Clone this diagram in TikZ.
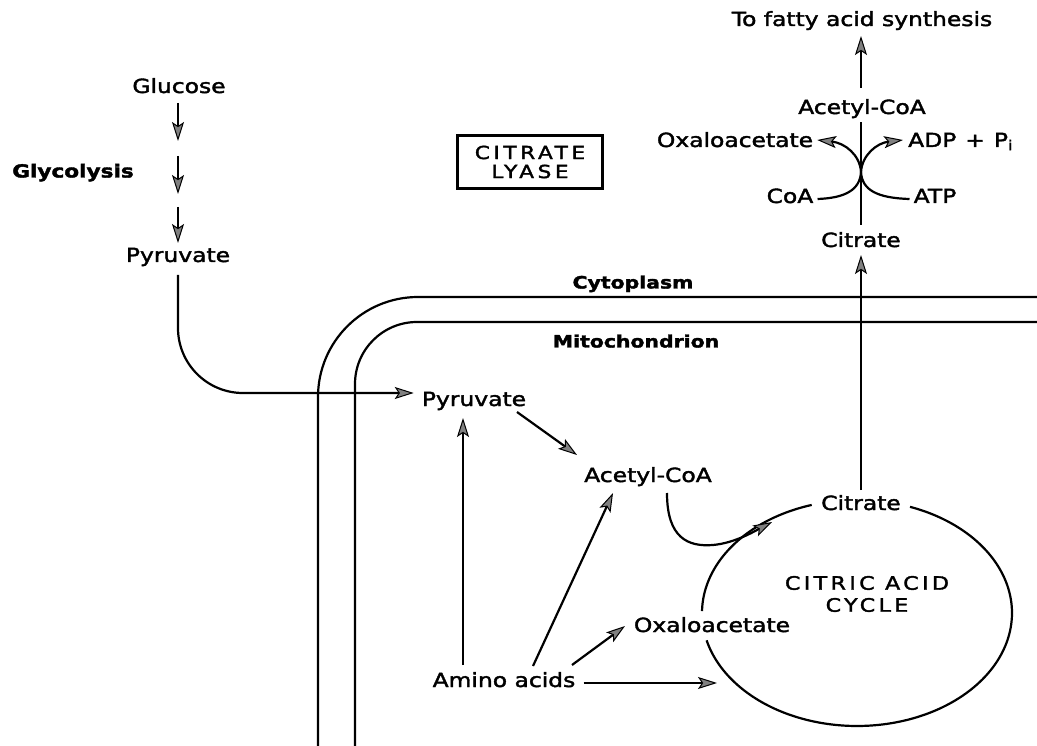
\documentclass[tikz,border=0pt]{standalone}
\usepackage{fontspec}
\setmainfont{DejaVu Sans}[FakeStretch=1.2,FakeBold=2]
\usetikzlibrary{arrows.meta,calc}
\begin{document}
\begin{tikzpicture}[x=1pt,y=-1pt,
  lbl/.style={inner sep=0pt,text height=14pt,text depth=0pt,font=\fontsize{19.5}{22}\selectfont},
  blbl/.style={inner sep=0pt,text height=13pt,text depth=0pt,font=\fontsize{17}{20}\selectfont\bfseries},
  caps/.style={inner sep=0pt,align=center,font=\fontsize{18}{20}\selectfont\addfontfeatures{LetterSpace=20}},
  line/.style={line width=2.2pt},
  arr/.style={line,-{Stealth[length=19pt,width=12pt,inset=4pt,line width=1pt,fill=black!50]}},
  mem/.style={line width=2.2pt}]
\useasboundingbox (0,0) rectangle (1037,746);
\fill[white] (0,0) rectangle (1037,746);

% cytoplasm labels
\node[lbl] (fatty) at (862,19) {To fatty acid synthesis};
\node[lbl] (acoaT) at (862,107) {Acetyl-CoA};
\node[lbl] (oxaT) at (735,140) {Oxaloacetate};
\node[lbl,anchor=west] (adp) at (908,140) {ADP\hspace{9pt}+\hspace{9pt}P\textsubscript{i}};
\node[lbl] (coa) at (790,196) {CoA};
\node[lbl] (atp) at (935,196) {ATP};
\node[lbl] (citT) at (861,240) {Citrate};
\node[draw,line width=2.2pt,minimum width=145pt,minimum height=53pt,align=center,inner sep=0pt,
      font=\fontsize{18}{19}\selectfont\addfontfeatures{LetterSpace=20}] (lyase) at (530,162) {CITRATE\\LYASE};
\node[lbl] (glucose) at (179,86) {Glucose};
\node[inner sep=0pt,text height=13pt,text depth=0pt,font=\fontsize{18}{20}\selectfont\bfseries] (glyco) at (73,171) {Glycolysis};
\node[lbl] (pyrL) at (178,255) {Pyruvate};
\node[blbl] (cyto) at (633,282) {Cytoplasm};
\node[blbl] (mito) at (636,341) {Mitochondrion};

% mitochondrion labels
\node[lbl] (pyrM) at (474,399) {Pyruvate};
\node[lbl] (acoaM) at (648,475) {Acetyl-CoA};
\node[lbl] (citM) at (861,503) {Citrate};
\node[lbl] (oxaM) at (712,625) {Oxaloacetate};
\node[lbl] (amino) at (504,680) {Amino acids};
\node[caps,font=\fontsize{18.5}{22}\selectfont\addfontfeatures{LetterSpace=18}] (cycle) at (867,594) {CITRIC ACID\\CYCLE};

% membranes
\draw[mem,rounded corners=100pt] (318,746) -- (318,297) -- (1037,297);
\draw[mem,rounded corners=62pt] (355,746) -- (355,322) -- (1037,322);

% glycolysis arrows
\draw[arr] ($(glucose)+(-1,17)$) -- ($(glucose)+(-1,55)$);
\draw[arr] ($(glucose)+(-1,70)$) -- ($(glucose)+(-1,108)$);
\draw[arr] ($(pyrL)+(0,-48)$) -- ($(pyrL)+(0,-12)$);

% pyruvate transport
\draw[arr,rounded corners=65pt] ($(pyrL)+(0,20)$) -- (178,393) -- ($(pyrM.west)+(-8,-6)$);

% citrate lyase reaction
\coordinate (mx) at (861,172);
\draw[arr] ($(citM)+(0,-13)$) -- ($(citT)+(0,15)$);
\draw[line] ($(citT)+(0,-15)$) -- ($(acoaT)+(-1,15)$);
\draw[arr] ($(acoaT)+(-1,-19)$) -- ($(fatty)+(-1,17)$);
\draw[line] ($(coa.east)+(4,3)$) .. controls (845,198) and (860,190) .. (mx);
\draw[line] ($(atp.west)+(-4,3)$) .. controls (877,198) and (862,190) .. (mx);
\draw[arr] (mx) .. controls (860,155) and (845,143) .. ($(oxaT.east)+(4,0)$);
\draw[arr] (mx) .. controls (862,155) and (877,143) .. ($(adp.west)+(-5,0)$);

% citric acid cycle
\draw[line] plot[domain=181:253,samples=50] ({857+155*cos(\x)},{613+113*sin(\x)});
\draw[line] plot[domain=290:526,samples=150] ({857+155*cos(\x)},{613+113*sin(\x)});
\draw[arr] ($(acoaM)+(19,18)$) .. controls (667,538) and (688,547) .. (713,545)
           .. controls (735,543) and (755,531) .. (772,522);

% mitochondrial arrows
\coordinate (cin) at (717,683);
\draw[arr] ($(pyrM)+(43,13)$) -- ($(acoaM)+(-71,-20)$);
\draw[arr] ($(amino)+(-41,-15)$) -- ($(pyrM)+(-11,19)$);
\draw[arr] ($(amino)+(29,-14)$) -- ($(acoaM)+(-35,18)$);
\draw[arr] ($(amino)+(68,-15)$) -- ($(oxaM)+(-87,1)$);
\draw[arr] ($(amino.east)+(8,3)$) -- (cin);
\end{tikzpicture}
\end{document}
